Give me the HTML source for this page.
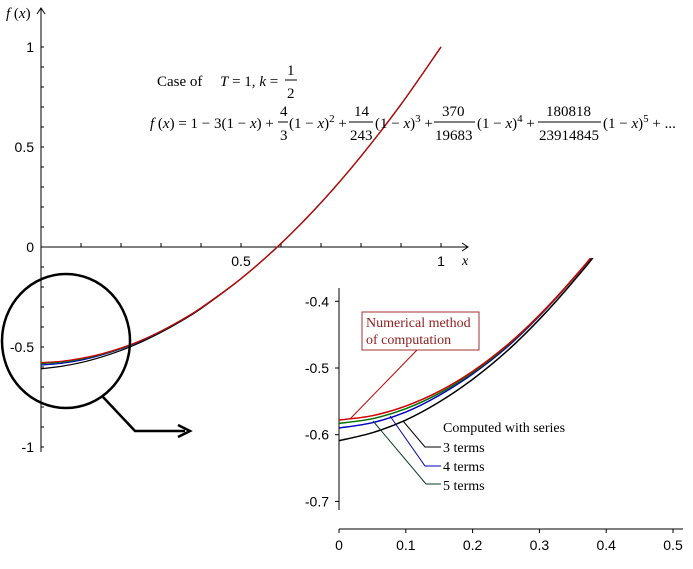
<!DOCTYPE html>
<html><head><meta charset="utf-8"><style>
html,body{margin:0;padding:0;background:#fff;}
svg{display:block;font-family:"Liberation Serif",serif;}
</style></head><body>
<svg id="chart" width="693" height="569" viewBox="0 0 693 569">
<g id="main"></g>
<g id="inset"></g>
<g font-size="15">
 <text x="157" y="86">Case  of</text>
 <text x="220" y="86"><tspan font-style="italic">T</tspan> = 1, <tspan font-style="italic">k</tspan> =</text>
 <text x="287" y="75">1</text>
 <line x1="285" y1="80" x2="297" y2="80" stroke="#000" stroke-width="1"/>
 <text x="287" y="98">2</text>
 <text x="150" y="128"><tspan font-style="italic">f</tspan> (<tspan font-style="italic">x</tspan>) = 1 − 3(1 − <tspan font-style="italic">x</tspan>) +</text>
 <text x="280" y="116">4</text>
 <line x1="278" y1="122" x2="288" y2="122" stroke="#000"/>
 <text x="280" y="140">3</text>
 <text x="289" y="128">(1 − <tspan font-style="italic">x</tspan>)<tspan dy="-6" font-size="11">2</tspan><tspan dy="6"> +</tspan></text>
 <text x="354" y="116">14</text>
 <line x1="349" y1="122" x2="373" y2="122" stroke="#000"/>
 <text x="350" y="140">243</text>
 <text x="375" y="128">(1 − <tspan font-style="italic">x</tspan>)<tspan dy="-6" font-size="11">3</tspan><tspan dy="6"> +</tspan></text>
 <text x="442" y="116">370</text>
 <line x1="434" y1="122" x2="475" y2="122" stroke="#000"/>
 <text x="435" y="140">19683</text>
 <text x="477" y="128">(1 − <tspan font-style="italic">x</tspan>)<tspan dy="-6" font-size="11">4</tspan><tspan dy="6"> +</tspan></text>
 <text x="546" y="116">180818</text>
 <line x1="538" y1="122" x2="601" y2="122" stroke="#000"/>
 <text x="539" y="140">23914845</text>
 <text x="603" y="128">(1 − <tspan font-style="italic">x</tspan>)<tspan dy="-6" font-size="11">5</tspan><tspan dy="6"> + ...</tspan></text>
</g>
<g>
 <ellipse cx="66" cy="341" rx="64" ry="67" fill="none" stroke="#000" stroke-width="2.5"/>
 <polyline points="103,397 135,431 185,431" fill="none" stroke="#000" stroke-width="2.5"/>
 <polyline points="178,425 190,431 178,437" fill="none" stroke="#000" stroke-width="2.5"/>
</g>
<g font-size="14">
 <line x1="350" y1="419" x2="417" y2="350" stroke="#c00000" stroke-width="1"/>
 <rect x="362" y="312" width="117" height="38" fill="#fff" stroke="#a03030"/>
 <text x="366" y="327" fill="#902020">Numerical method</text>
 <text x="366" y="344" fill="#902020">of computation</text>
 <text x="443" y="432">Computed with series</text>
 <polyline points="403,421 425,447 441,447" fill="none" stroke="#000"/>
 <text x="443" y="452">3 terms</text>
 <polyline points="390,416 425,466 441,466" fill="none" stroke="#0000b0"/>
 <text x="443" y="471">4 terms</text>
 <polyline points="373,421 426,484 441,484" fill="none" stroke="#004020"/>
 <text x="443" y="490">5 terms</text>
</g>
</svg>
<script>
const xs = [0,0.05,0.1,0.15,0.2,0.25,0.3,0.35,0.4,0.5,0.6,0.7,0.8,0.9,1];
const numerical = [-0.578,-0.5715,-0.557,-0.535,-0.505,-0.467,-0.4205,-0.3664,-0.3044,-0.158,0.018,0.222,0.454,0.713,1];
const terms3 = [-0.609,-0.597,-0.578,-0.551,-0.517,-0.476,-0.427,-0.371,-0.308,-0.159,0.017,0.221,0.454,0.713,1];
const terms4 = [-0.590,-0.582,-0.566,-0.541,-0.509,-0.470,-0.422,-0.367,-0.305,-0.158,0.018,0.222,0.454,0.713,1];
const terms5 = [-0.583,-0.576,-0.561,-0.538,-0.507,-0.468,-0.421,-0.3666,-0.3045,-0.158,0.018,0.222,0.454,0.713,1];
const mainYTicks = [-1,-0.5,0,0.5,1];
const mainXTicks = [0.5,1];
const insetXTicks = [0,0.1,0.2,0.3,0.4,0.5];
const insetYTicks = [-0.7,-0.6,-0.5,-0.4];
const NS="http://www.w3.org/2000/svg";
function mk(p,t,a){const e=document.createElementNS(NS,t);for(const k in a)e.setAttribute(k,a[k]);p.appendChild(e);return e;}
function path(sx,sy,ys){
  const P=xs.map((x,i)=>[sx(x),sy(ys[i])]);
  let d="M"+P[0][0]+","+P[0][1];
  for(let i=0;i<P.length-1;i++){
    const p0=P[Math.max(0,i-1)],p1=P[i],p2=P[i+1],p3=P[Math.min(P.length-1,i+2)];
    const c1=[p1[0]+(p2[0]-p0[0])/6,p1[1]+(p2[1]-p0[1])/6];
    const c2=[p2[0]-(p3[0]-p1[0])/6,p2[1]-(p3[1]-p1[1])/6];
    d+=` C${c1[0]},${c1[1]} ${c2[0]},${c2[1]} ${p2[0]},${p2[1]}`;
  }
  return d;
}
const series=[[terms3,"#000","series-3-terms"],[terms4,"#0000c0","series-4-terms"],[terms5,"#007000","series-5-terms"],[numerical,"#d00000","series-numerical"]];
const m=document.getElementById("main");
const mx=x=>41+x*400, my=y=>247-y*200;
let e=mk(m,"line",{x1:41,y1:8,x2:41,y2:452,stroke:"#000"});


mk(m,"polyline",{points:"37,14 41,8 45,14",fill:"none",stroke:"#000"});
e=mk(m,"line",{x1:41,y1:247,x2:468,y2:247,stroke:"#000"});


mk(m,"polyline",{points:"462,243 468,247 462,251",fill:"none",stroke:"#000"});
for(let i=-10;i<=10;i++){mk(m,"line",{x1:41,y1:my(i/10),x2:44,y2:my(i/10),stroke:"#000"});}
for(let i=1;i<=10;i++){mk(m,"line",{x1:mx(i/10),y1:247,x2:mx(i/10),y2:243,stroke:"#000"});}
mainYTicks.forEach(v=>{e=mk(m,"text",{x:34,y:my(v)+5,"text-anchor":"end","font-size":"14","font-family":"Liberation Sans, sans-serif"});e.textContent=v===0?"0":String(v);

});
mainXTicks.forEach(v=>{e=mk(m,"text",{x:mx(v),y:266,"text-anchor":"middle","font-size":"14","font-family":"Liberation Sans, sans-serif"});e.textContent=String(v);

});
e=mk(m,"text",{x:462,y:265,"font-size":"14","font-style":"italic"});e.textContent="x";


e=mk(m,"text",{x:6,y:18,"font-size":"15"});e.innerHTML='<tspan font-style="italic">f</tspan> (<tspan font-style="italic">x</tspan>)';


series.forEach(s=>{e=mk(m,"path",{d:path(mx,my,s[0]),fill:"none",stroke:s[1],"stroke-width":"1.2"});

});
const n=document.getElementById("inset");
const ix=x=>339+x*668, iy=y=>368-(y+0.5)*667;
mk(n,"defs",{}).innerHTML='<clipPath id="ic"><rect x="339" y="258" width="350" height="260"/></clipPath>';
e=mk(n,"line",{x1:339,y1:288,x2:339,y2:510,stroke:"#000"});


e=mk(n,"line",{x1:339,y1:529,x2:683,y2:529,stroke:"#000"});


insetYTicks.forEach(v=>{mk(n,"line",{x1:335,y1:iy(v),x2:339,y2:iy(v),stroke:"#000"});
e=mk(n,"text",{x:329,y:iy(v)+5,"text-anchor":"end","font-size":"14","font-family":"Liberation Sans, sans-serif"});e.textContent=String(v);

});
insetXTicks.forEach(v=>{mk(n,"line",{x1:ix(v),y1:529,x2:ix(v),y2:533,stroke:"#000"});
e=mk(n,"text",{x:ix(v),y:550,"text-anchor":"middle","font-size":"14","font-family":"Liberation Sans, sans-serif"});e.textContent=String(v);

});
series.forEach(s=>{e=mk(n,"path",{d:path(ix,iy,s[0]),fill:"none",stroke:s[1],"stroke-width":"1.5","clip-path":"url(#ic)"});

});
</script>
</body></html>
